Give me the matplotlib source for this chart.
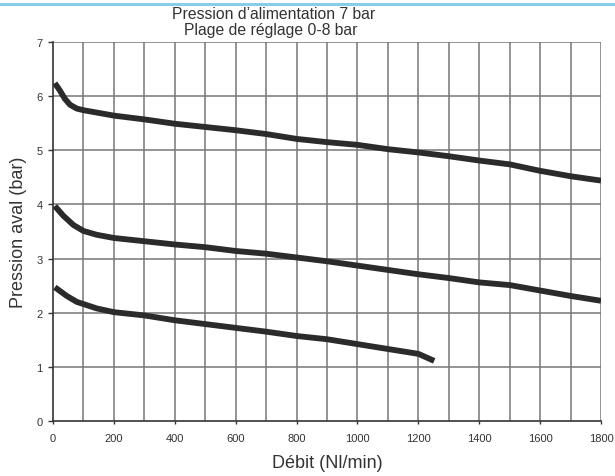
import matplotlib.pyplot as plt
from matplotlib.lines import Line2D

plt.rcParams['font.family'] = ['Liberation Sans', 'DejaVu Sans']

# Débit (Nl/min) and pression aval (bar)
debit_haut = [6, 23, 39, 56, 78, 100, 200, 300, 400, 500, 600, 700, 800, 900, 1000,
              1100, 1200, 1300, 1400, 1500, 1600, 1700, 1800]
pression_haut = [6.24, 6.10, 5.95, 5.84, 5.77, 5.74, 5.64, 5.57, 5.49, 5.43, 5.37, 5.30,
                 5.21, 5.15, 5.10, 5.02, 4.96, 4.89, 4.81, 4.74, 4.62, 4.52, 4.44]

debit_milieu = [6, 34, 67, 100, 143, 200, 300, 400, 500, 600, 700, 800, 900, 1000,
                1100, 1200, 1300, 1400, 1500, 1600, 1700, 1800]
pression_milieu = [3.97, 3.79, 3.62, 3.51, 3.44, 3.38, 3.32, 3.26, 3.21, 3.14, 3.09, 3.02,
                   2.95, 2.87, 2.79, 2.71, 2.64, 2.56, 2.51, 2.41, 2.31, 2.22]

debit_bas = [6, 45, 78, 100, 143, 200, 300, 400, 500, 600, 700, 800, 900, 1000,
             1100, 1200, 1252]
pression_bas = [2.47, 2.31, 2.20, 2.16, 2.08, 2.01, 1.95, 1.86, 1.79, 1.72, 1.65, 1.57,
                1.51, 1.42, 1.33, 1.24, 1.11]

x_ticks = [0, 200, 400, 600, 800, 1000, 1200, 1400, 1600, 1800]
y_ticks = [0, 1, 2, 3, 4, 5, 6, 7]

fig = plt.figure(figsize=(6.15, 4.77), dpi=100)
ax = fig.add_axes([0.0862, 0.1153, 0.8911, 0.7946])

# grille
for x in range(100, 1801, 100):
    ax.axvline(x, color='#777777', lw=1.1, zorder=1)
for y in y_ticks[1:]:
    ax.axhline(y, color='#777777', lw=1.1, zorder=1)

for xs, ys in [(debit_haut, pression_haut), (debit_milieu, pression_milieu), (debit_bas, pression_bas)]:
    ax.plot(xs, ys, color='#2b2b2b', lw=4.2, solid_capstyle='butt',
            solid_joinstyle='round', zorder=3)

ax.set_xlim(0, 1800)
ax.set_ylim(0, 7)
ax.set_xticks(x_ticks)
ax.set_yticks(y_ticks)
ax.tick_params(axis='both', labelsize=8, colors='#333333', width=1)
ax.tick_params(axis='y', length=3.6, pad=4)
ax.tick_params(axis='x', length=2.4, pad=6)
for side in ['top', 'right']:
    ax.spines[side].set_visible(False)
for side in ['left', 'bottom']:
    ax.spines[side].set_color('#333333')
    ax.spines[side].set_linewidth(1.2)

fig.text(0.445, 0.969, "Pression d\u2019alimentation 7 bar", ha='center', va='center',
         fontsize=11.3, color='#333333')
fig.text(0.44, 0.936, "Plage de r\u00e9glage 0-8 bar", ha='center', va='center',
         fontsize=11.3, color='#333333')
fig.text(0.532, 0.029, "D\u00e9bit (Nl/min)", ha='center', va='center', fontsize=13, color='#333333')
fig.text(0.030, 0.512, "Pression aval (bar)", ha='center', va='center', rotation=90,
         fontsize=13, color='#333333')

# bandeau bleu en haut
fig.add_artist(Line2D([0, 1], [0.9895, 0.9895], transform=fig.transFigure,
                      color='#87cde9', lw=2.2))

fig.savefig("out.png", dpi=100)
